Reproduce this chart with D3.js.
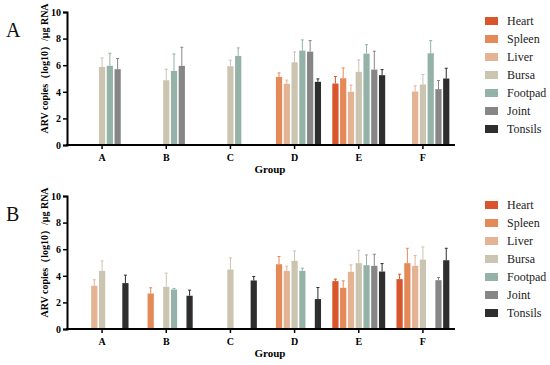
<!DOCTYPE html>
<html>
<head>
<meta charset="utf-8">
<script src="https://cdn.jsdelivr.net/npm/d3@7"></script>
<style>
  body { margin: 0; background: #fff; }
  svg text { font-family: "Liberation Serif", "Times New Roman", serif; }
</style>
</head>
<body>
<div id="chart"></div>
<script>
const groups = ["A", "B", "C", "D", "E", "F"]
const tissues = ["Heart", "Spleen", "Liver", "Bursa", "Footpad", "Joint", "Tonsils"]
const colors = ["#d9562c", "#e38a58", "#e3b393", "#cbc4b1", "#95b2a8", "#868686", "#2e2e2e"]
const yTicks = [0, 2, 4, 6, 8, 10]

// panel A: means per tissue (rows) by group (columns), null = not detected
const meansA = [
  [null, null, null, null, 4.62, null],
  [null, null, null, 5.12, 5.02, null],
  [null, null, null, 4.6, 4.0, 4.02],
  [5.87, 4.87, 5.92, 6.22, 5.5, 4.55],
  [5.95, 5.57, 6.7, 7.1, 6.87, 6.9],
  [5.7, 5.95, null, 7.02, 5.67, 4.2],
  [null, null, null, 4.75, 5.25, 5.0]
]
const sdA = [
  [null, null, null, null, 0.53, null],
  [null, null, null, 0.3, 0.78, null],
  [null, null, null, 0.28, 0.5, 0.43],
  [0.68, 0.83, 0.46, 0.78, 0.9, 0.75],
  [0.95, 1.28, 0.6, 0.8, 0.68, 0.95],
  [0.8, 1.4, null, 0.83, 1.38, 0.65],
  [null, null, null, 0.22, 0.42, 0.77]
]

// panel B
const meansB = [
  [null, null, null, null, 3.6, 3.75],
  [null, 2.67, null, 4.87, 3.1, 4.95],
  [3.25, null, null, 4.37, 4.3, 4.75],
  [4.37, 3.17, 4.47, 5.12, 4.95, 5.22],
  [null, 2.97, null, 4.37, 4.8, null],
  [null, null, null, null, 4.75, 3.67],
  [3.45, 2.5, 3.65, 2.25, 4.32, 5.17]
]
const sdB = [
  [null, null, null, null, 0.15, 0.37],
  [null, 0.43, null, 0.58, 0.52, 1.12],
  [0.45, null, null, 0.35, 0.52, 0.77],
  [0.75, 1.03, 0.88, 0.75, 0.97, 0.95],
  [null, 0.08, null, 0.2, 0.77, null],
  [null, null, null, null, 0.87, 0.2],
  [0.6, 0.42, 0.3, 0.87, 0.6, 0.9]
]

const width = 550, height = 365
const svg = d3.select("#chart").append("svg")
  .attr("width", width).attr("height", height)

function drawPanel(letter, means, sds, top, bottom) {
  const g = svg.append("g")

  const x = d3.scaleBand().domain(groups).range([70, 455])
  const xi = d3.scaleBand().domain(tissues).range([-28, 28]).padding(0.2)
  const y = d3.scaleLinear().domain([0, 10]).range([bottom, top])

  const rows = []
  tissues.forEach((t, ti) => {
    groups.forEach((grp, gi) => {
      if (means[ti][gi] != null) {
        rows.push({ tissue: t, group: grp, mean: means[ti][gi], sd: sds[ti][gi], color: colors[ti] })
      }
    })
  })

  const cx = d => x(d.group) + x.bandwidth() / 2 + xi(d.tissue) + xi.bandwidth() / 2

  // error bars (up only)
  g.selectAll(".err").data(rows).enter().append("line")
    .attr("x1", cx).attr("x2", cx)
    .attr("y1", d => y(d.mean)).attr("y2", d => y(d.mean + d.sd))
    .attr("stroke", d => d.color).attr("stroke-width", 1)
  g.selectAll(".cap").data(rows).enter().append("line")
    .attr("x1", d => cx(d) - 1.5).attr("x2", d => cx(d) + 1.5)
    .attr("y1", d => y(d.mean + d.sd)).attr("y2", d => y(d.mean + d.sd))
    .attr("stroke", d => d.color).attr("stroke-width", 1)

  g.selectAll(".bar").data(rows).enter().append("rect")
    .attr("x", d => cx(d) - xi.bandwidth() / 2)
    .attr("width", xi.bandwidth())
    .attr("y", d => y(d.mean))
    .attr("height", d => y(0) - y(d.mean))
    .attr("fill", d => d.color)

  // y axis
  const yAxis = g.append("g")
    .attr("transform", "translate(67,0)")
    .call(d3.axisLeft(y).tickValues(yTicks).tickSize(4).tickPadding(2))
  yAxis.select(".domain").attr("stroke", "#000").attr("stroke-width", 2)
  yAxis.selectAll(".tick line").attr("stroke", "#000").attr("stroke-width", 1.5)
  yAxis.selectAll("text").attr("font-size", 10).attr("font-weight", "bold").attr("fill", "#000")
    .style("font-family", "Liberation Serif")

  // x axis
  const xAxis = g.append("g")
    .attr("transform", `translate(0,${bottom})`)
    .call(d3.axisBottom(x).tickSize(4).tickSizeOuter(0).tickPadding(5))
  xAxis.select(".domain").attr("d", `M66,0H455`).attr("stroke", "#000").attr("stroke-width", 2)
  xAxis.selectAll(".tick line").attr("stroke", "#000").attr("stroke-width", 1.5)
  xAxis.selectAll("text").attr("font-size", 10).attr("font-weight", "bold").attr("fill", "#000")
    .style("font-family", "Liberation Serif")

  g.append("text")
    .attr("x", 270).attr("y", bottom + 28)
    .attr("text-anchor", "middle")
    .attr("font-size", 11).attr("font-weight", "bold")
    .text("Group")

  g.append("text")
    .attr("transform", `translate(48,${(top + bottom) / 2 - 10}) rotate(-90)`)
    .attr("text-anchor", "middle")
    .attr("font-size", 10).attr("font-weight", "bold")
    .text("ARV copies（log10）/μg RNA")

  g.append("text")
    .attr("x", 6).attr("y", top + 25)
    .attr("font-size", 20)
    .attr("fill", "#111")
    .text(letter)

  // legend
  const leg = g.selectAll(".leg").data(tissues).enter().append("g")
    .attr("transform", (d, i) => `translate(485,${top + 9 + i * 18})`)
  leg.append("rect")
    .attr("x", 0).attr("y", -4).attr("width", 13).attr("height", 8)
    .attr("fill", (d, i) => colors[i])
  leg.append("text")
    .attr("x", 22).attr("y", 4)
    .attr("font-size", 12).attr("fill", "#222")
    .text(d => d)
}

drawPanel("A", meansA, sdA, 12, 145)
drawPanel("B", meansB, sdB, 196, 329)
</script>
</body>
</html>
